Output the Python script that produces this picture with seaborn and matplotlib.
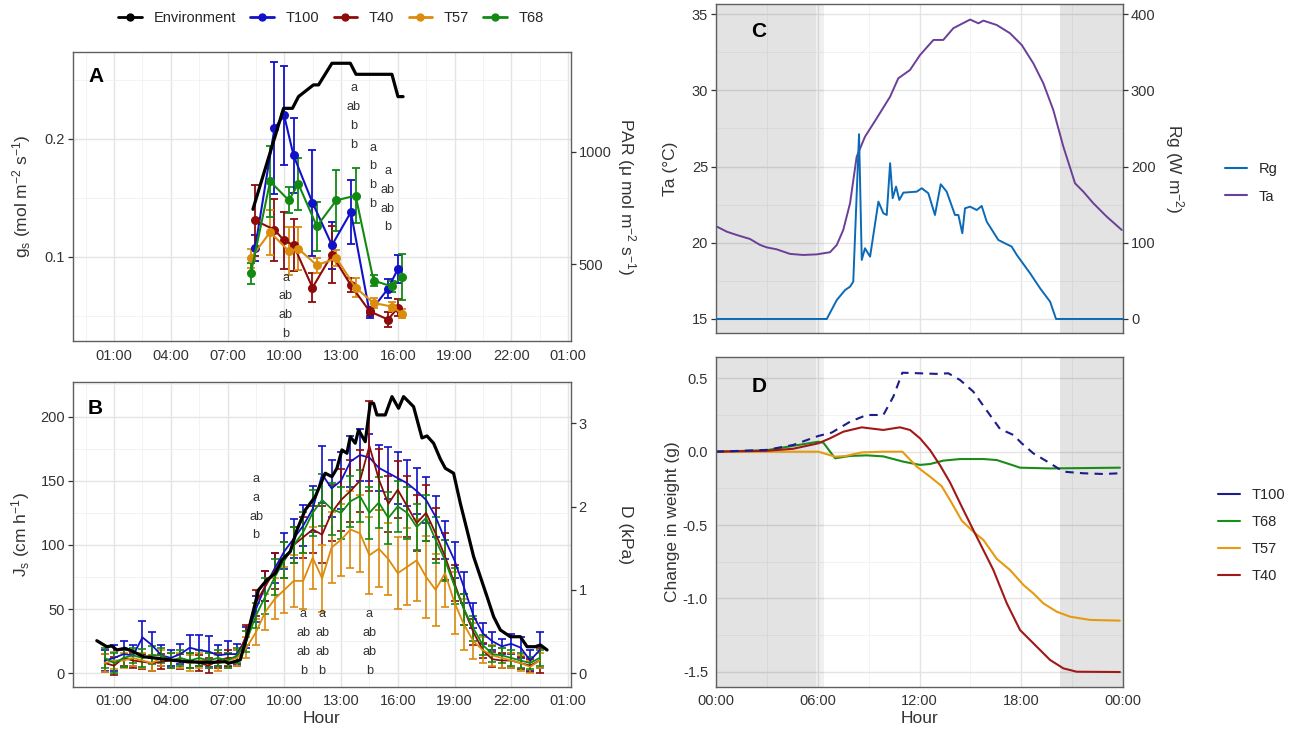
import numpy as np
import pandas as pd
import matplotlib
matplotlib.use("Agg")
import matplotlib.pyplot as plt
import seaborn as sns
from matplotlib.ticker import FixedLocator, FuncFormatter
from matplotlib.lines import Line2D

# ====================== DATA ======================
order_A = ["T100", "T40", "T57", "T68"]

# ---- Panel A : stomatal conductance (mol m-2 s-1) ----
hoursA_1 = [8.46, 9.48, 9.99, 10.49, 11.49, 12.52, 13.52, 14.51, 15.48, 16.01]   # T100, T40
hoursA_2 = [8.23, 9.25, 10.24, 10.74, 11.72, 12.75, 13.77, 14.72, 15.69, 16.22]  # T57, T68
gs_T100 = [0.108, 0.209, 0.220, 0.186, 0.146, 0.110, 0.138, 0.053, 0.073, 0.090]
gs_T100_err = [0.011, 0.056, 0.042, 0.032, 0.045, 0.020, 0.027, 0.005, 0.008, 0.012]
gs_T40 = [0.131, 0.123, 0.114, 0.110, 0.074, 0.102, 0.076, 0.054, 0.047, 0.057]
gs_T40_err = [0.030, 0.026, 0.024, 0.022, 0.012, 0.024, 0.006, 0.004, 0.006, 0.007]
gs_T57 = [0.099, 0.121, 0.105, 0.107, 0.093, 0.099, 0.074, 0.061, 0.058, 0.052]
gs_T57_err = [0.008, 0.019, 0.020, 0.018, 0.0064, 0.007, 0.008, 0.004, 0.004, 0.0036]
gs_T68 = [0.086, 0.164, 0.148, 0.162, 0.126, 0.148, 0.152, 0.080, 0.075, 0.083]
gs_T68_err = [0.0085, 0.030, 0.011, 0.022, 0.021, 0.026, 0.023, 0.005, 0.005, 0.0195]

par_hour = [8.34, 9.96, 10.43, 10.75, 11.54, 11.81, 12.52, 13.49, 13.79, 15.69, 16.01, 16.28]
par_val = [744, 1192, 1192, 1244, 1296, 1296, 1392, 1392, 1343, 1343, 1244, 1244]

lettersA = [  # (hour, top gs, labels)
    (10.09, [0.0825, 0.0667, 0.0508, 0.0350], ["a", "ab", "ab", "b"]),
    (13.66, [0.2430, 0.2269, 0.2110, 0.1952], ["a", "ab", "b", "b"]),
    (14.67, [0.1926, 0.1769, 0.1610, 0.1452], ["a", "b", "b", "b"]),
    (15.48, [0.1729, 0.1568, 0.1409, 0.1252], ["a", "ab", "ab", "b"]),
]

# ---- Panel B : sap flux density (cm h-1) ----
hoursB = np.arange(0.5, 24.0, 0.5)
js_T100 = [10, 12, 15, 14, 28, 22, 14, 12, 15, 20, 18, 17, 14, 15, 15,
           28, 50, 68, 82, 95, 105, 115, 128, 155, 144, 150, 165, 170, 168, 160, 156,
           152, 148, 142, 135, 122, 104, 88, 67, 45, 31, 25, 21, 23, 20, 10, 18]
js_T100_err = [8, 10, 10, 8, 13, 10, 8, 6, 8, 10, 12, 12, 8, 10, 8,
               8, 10, 12, 12, 14, 15, 16, 18, 22, 22, 22, 20, 20, 18, 18, 20,
               20, 18, 18, 18, 16, 15, 14, 12, 10, 8, 7, 6, 8, 8, 8, 14]
js_T40 = [8, 6, 12, 10, 9, 8, 9, 10, 9, 10, 8, 6, 10, 12, 12,
          30, 55, 68, 80, 88, 100, 106, 112, 108, 125, 135, 142, 150, 177, 151, 132,
          143, 130, 117, 125, 109, 91, 70, 50, 32, 18, 11, 10, 10, 8, 6, 10]
js_T40_err = [7, 7, 6, 6, 6, 6, 6, 6, 6, 6, 6, 6, 6, 6, 6,
              8, 10, 12, 14, 14, 14, 16, 18, 22, 22, 24, 24, 24, 35, 24, 22,
              22, 24, 22, 22, 20, 18, 14, 12, 10, 6, 6, 6, 6, 5, 5, 10]
js_T57 = [8, 10, 10, 12, 10, 8, 12, 10, 10, 8, 10, 10, 8, 10, 12,
          20, 32, 48, 58, 65, 72, 72, 90, 74, 98, 104, 112, 109, 92, 97, 89,
          78, 83, 88, 75, 65, 78, 55, 38, 25, 18, 14, 12, 10, 8, 5, 10]
js_T57_err = [7, 7, 6, 6, 6, 6, 6, 6, 6, 6, 6, 6, 6, 6, 6,
              8, 10, 14, 16, 18, 20, 22, 24, 26, 28, 28, 30, 30, 30, 30, 28,
              28, 30, 32, 32, 28, 26, 24, 20, 14, 10, 8, 8, 6, 6, 5, 6]
js_T68 = [12, 8, 12, 14, 12, 14, 14, 10, 12, 10, 12, 10, 12, 10, 14,
          25, 45, 60, 75, 88, 100, 110, 125, 135, 128, 125, 134, 138, 125, 133, 121,
          130, 125, 114, 121, 104, 88, 68, 50, 35, 22, 15, 14, 12, 10, 8, 12]
js_T68_err = [8, 8, 7, 6, 7, 7, 6, 6, 6, 6, 6, 6, 6, 6, 6,
              8, 10, 14, 14, 14, 14, 16, 18, 20, 20, 20, 20, 20, 20, 20, 20,
              20, 20, 18, 18, 18, 16, 14, 12, 10, 8, 6, 6, 6, 6, 5, 6]

vpd_hour = [0.085, 0.614, 0.878, 1.143, 1.582, 2.021, 2.550, 3.259, 3.963, 4.847,
            5.550, 6.254, 6.873, 7.048, 7.492, 7.667, 8.021, 8.286, 8.635, 9.079,
            9.519, 9.873, 10.312, 10.667, 11.106, 11.635, 12.164, 12.519, 12.783, 13.048,
            13.312, 13.487, 13.751, 13.926, 14.280, 14.545, 14.720, 14.899, 15.339, 15.693,
            16.042, 16.307, 16.836, 17.280, 17.545, 17.894, 18.249, 18.513, 18.952, 19.307,
            19.661, 20.011, 20.365, 20.720, 21.069, 21.423, 21.952, 22.481, 22.836, 23.275,
            23.540, 23.894]
vpd_val = [0.391, 0.319, 0.328, 0.280, 0.300, 0.259, 0.199, 0.180, 0.160, 0.139,
           0.132, 0.132, 0.139, 0.120, 0.148, 0.160, 0.439, 0.679, 1.000, 1.120,
           1.200, 1.360, 1.460, 1.720, 1.960, 2.120, 2.401, 2.360, 2.461, 2.681,
           2.641, 2.840, 2.761, 2.921, 2.780, 3.241, 3.241, 3.101, 3.101, 3.321,
           3.181, 3.321, 3.200, 2.825, 2.849, 2.761, 2.573, 2.461, 2.401, 2.041,
           1.720, 1.400, 1.160, 0.920, 0.679, 0.520, 0.439, 0.439, 0.319, 0.319,
           0.340, 0.280]

lettersB = [
    (8.51, [151.1, 136.5, 121.9, 107.5], ["a", "a", "ab", "b"]),
    (11.0, [46.0, 31.2, 16.4, 1.8], ["a", "ab", "ab", "b"]),
    (12.0, [46.0, 31.2, 16.4, 1.8], ["a", "ab", "ab", "b"]),
    (14.5, [46.0, 31.2, 16.4, 1.8], ["a", "ab", "ab", "b"]),
]

# ---- Panel C : air temperature and global radiation ----
ta_hour = [0, 0.65, 1.24, 2.02, 2.61, 3.0, 3.59, 4.38, 5.16, 5.95, 6.73, 7.13, 7.51, 7.91,
           8.30, 8.79, 9.48, 10.27, 10.75, 11.44, 12.03, 12.82, 13.40, 13.99, 14.98, 15.47,
           15.76, 16.55, 17.33, 18.02, 18.70, 19.29, 19.88, 20.47, 21.16, 21.65, 22.24,
           23.03, 23.91]
ta_val = [21.10, 20.73, 20.51, 20.25, 19.86, 19.70, 19.57, 19.27, 19.20, 19.24, 19.38,
          19.86, 20.84, 22.59, 25.65, 26.96, 28.17, 29.59, 30.79, 31.34, 32.32, 33.31,
          33.31, 34.08, 34.65, 34.40, 34.58, 34.29, 33.75, 32.98, 31.78, 30.47, 28.71,
          26.31, 23.90, 23.35, 22.59, 21.71, 20.84]
rg_hour = [0, 6.54, 7.13, 7.62, 7.91, 8.10, 8.44, 8.60, 8.79, 9.09, 9.58, 9.87, 10.07,
           10.27, 10.42, 10.62, 10.81, 11.05, 11.84, 12.13, 12.52, 12.91, 13.25, 13.60,
           14.09, 14.29, 14.52, 14.68, 14.98, 15.37, 15.66, 15.96, 16.64, 17.43, 17.73,
           18.51, 19.10, 19.69, 20.04, 24.0]
rg_val = [0, 0, 24.9, 38, 42.4, 49, 242.5, 77.5, 92.8, 81.8, 154, 138.8, 136.5, 204.4,
          158.5, 173.7, 156.2, 165.8, 167.1, 171.6, 165, 136.5, 176.8, 167.1, 136.5, 136.5,
          112.5, 145.3, 147.4, 143, 148.3, 127.7, 103.7, 94.9, 84, 60, 40.3, 22.7, 0, 0]

# ---- Panel D : change in weight (g) ----
wD_T100_h = [0, 3.0, 4.57, 6.04, 6.83, 7.91, 8.89, 9.87, 10.46, 10.99, 12.03, 13.0, 13.7,
             14.39, 15.17, 15.96, 16.74, 17.53, 18.02, 18.70, 19.69, 20.47, 21.65, 22.83, 23.8]
wD_T100 = [0, 0.012, 0.046, 0.107, 0.13, 0.204, 0.25, 0.25, 0.375, 0.538, 0.534, 0.53,
           0.534, 0.488, 0.409, 0.28, 0.155, 0.114, 0.057, -0.011, -0.079, -0.136,
           -0.147, -0.152, -0.147]
wD_T68_h = [0, 3.0, 6.04, 6.34, 7.03, 7.91, 8.89, 9.87, 11.05, 12.03, 12.62, 13.40, 14.39,
            15.76, 16.55, 17.43, 17.92, 19.69, 23.8]
wD_T68 = [0, 0.01, 0.068, 0.061, -0.045, -0.029, -0.025, -0.032, -0.068, -0.09, -0.084,
          -0.061, -0.05, -0.05, -0.057, -0.09, -0.109, -0.114, -0.109]
wD_T57_h = [0, 6.04, 7.03, 7.62, 8.6, 9.87, 10.99, 11.84, 12.62, 13.3, 13.8, 14.49, 15.17,
            15.76, 16.55, 17.33, 18.12, 18.70, 19.29, 20.08, 20.87, 22.04, 23.8]
wD_T57 = [0, 0, -0.034, -0.03, -0.005, 0, 0, -0.102, -0.17, -0.234, -0.33, -0.47, -0.545,
          -0.601, -0.73, -0.806, -0.908, -0.965, -1.033, -1.09, -1.124, -1.146, -1.151]
wD_T40_h = [0, 3.0, 4.57, 6.04, 6.73, 7.51, 8.6, 9.0, 9.87, 10.46, 10.85, 11.44, 12.03,
            12.62, 13.2, 13.8, 14.49, 15.17, 15.76, 16.35, 17.14, 17.92, 18.70, 19.69,
            20.47, 21.26, 23.8]
wD_T40 = [0, 0.006, 0.02, 0.057, 0.091, 0.136, 0.166, 0.16, 0.148, 0.159, 0.166, 0.148,
          0.091, 0.011, -0.091, -0.21, -0.375, -0.534, -0.67, -0.806, -1.033, -1.215,
          -1.305, -1.419, -1.476, -1.499, -1.501]

night_spans = [(0.0, 5.9, 0.11), (5.9, 6.36, 0.06), (20.27, 24.0, 0.11)]

# ====================== STYLE ======================
sns.set_theme(style="white")
plt.rcParams["font.family"] = ["Liberation Sans", "DejaVu Sans"]
plt.rcParams["mathtext.fontset"] = "custom"
plt.rcParams["mathtext.rm"] = "Liberation Sans"
plt.rcParams["mathtext.it"] = "Liberation Sans:italic"
plt.rcParams["mathtext.sf"] = "Liberation Sans"
plt.rcParams["axes.unicode_minus"] = False

palA = {"T100": "#1111C8", "T40": "#8E0B0B", "T57": "#DB8B0E", "T68": "#128A12"}
palD = {"T100": "#1C1C8A", "T68": "#1A8C1A", "T57": "#E69A10", "T40": "#A01818"}
c_rg, c_ta = "#0B6AB8", "#6B3F98"
TXT = "#333333"

W, H = 1295, 729
fig = plt.figure(figsize=(W / 100, H / 100), dpi=100)
fig.patch.set_facecolor("white")


def box(x0, y0, x1, y1):
    return [x0 / W, 1 - y1 / H, (x1 - x0) / W, (y1 - y0) / H]


def style(ax):
    ax.set_facecolor("white")
    for s in ax.spines.values():
        s.set_color("#5f5f5f")
        s.set_linewidth(1.0)
    ax.set_axisbelow(True)
    ax.grid(True, which="major", color="#E4E4E4", lw=1.0)
    ax.grid(True, which="minor", color="#F1F1F1", lw=0.6)
    ax.tick_params(which="major", length=3.5, width=0.9, color=TXT,
                   labelsize=10.5, labelcolor=TXT, pad=2)
    ax.tick_params(which="minor", length=0)


def twin_style(ax2):
    ax2.grid(False)
    ax2.patch.set_visible(False)
    for s in ax2.spines.values():
        s.set_visible(False)
    ax2.tick_params(axis="y", which="major", length=3.5, width=0.9, color=TXT,
                    labelsize=10.5, labelcolor=TXT, pad=2)
    ax2.tick_params(which="minor", length=0)


hour_fmt = FuncFormatter(lambda v, p: f"{int(round(v)) % 24:02d}:00")
xlimAB = (-1.19, 25.16)

# ====================== PANEL A ======================
axA = fig.add_axes(box(72.7, 52, 571, 341))
style(axA)
rows = []
for name, hrs, vals, errs in [("T100", hoursA_1, gs_T100, gs_T100_err),
                               ("T40", hoursA_1, gs_T40, gs_T40_err),
                               ("T57", hoursA_2, gs_T57, gs_T57_err),
                               ("T68", hoursA_2, gs_T68, gs_T68_err)]:
    for h, v, e in zip(hrs, vals, errs):
        rows.append((name, h, v, e))
dfA = pd.DataFrame(rows, columns=["treatment", "hour", "gs", "err"])

for name in ["T100", "T40", "T57", "T68"]:
    sub = dfA[dfA.treatment == name]
    axA.errorbar(sub.hour, sub.gs, yerr=sub.err, fmt="none", ecolor=palA[name],
                 elinewidth=1.3, capsize=2.6, capthick=1.3, zorder=2)
sns.lineplot(data=dfA, x="hour", y="gs", hue="treatment", hue_order=["T100", "T40", "T57", "T68"],
             palette=palA, estimator=None, marker="o", markersize=6.5, markeredgewidth=0,
             linewidth=1.5, legend=False, ax=axA, zorder=3)
axA.set_xlim(*xlimAB)
axA.set_ylim(0.0288, 0.2737)
axA.xaxis.set_major_locator(FixedLocator([1, 4, 7, 10, 13, 16, 19, 22, 25]))
axA.xaxis.set_minor_locator(FixedLocator(np.arange(-0.5, 26, 3)))
axA.xaxis.set_major_formatter(hour_fmt)
axA.yaxis.set_major_locator(FixedLocator([0.1, 0.2]))
axA.yaxis.set_minor_locator(FixedLocator([0.05, 0.15, 0.25]))
axA.yaxis.set_major_formatter(FuncFormatter(lambda v, p: f"{v:.1f}"))
axA.set_xlabel("")
axA.set_ylabel(r"g$_\mathrm{s}$ (mol m$^{\mathrm{-2}}$ s$^{\mathrm{-1}}$)", fontsize=12.5, color=TXT)
axA.yaxis.set_label_coords(-0.080, 0.5)

axA2 = axA.twinx()
twin_style(axA2)
sns.lineplot(x=par_hour, y=par_val, color="black", linewidth=2.3, estimator=None, ax=axA2)
axA2.set_ylim(159.5, 1442)
axA2.yaxis.set_major_locator(FixedLocator([500, 1000]))
axA2.set_ylabel(r"PAR ($\mathrm{\mu}$ mol m$^{\mathrm{-2}}$ s$^{\mathrm{-1}}$)", fontsize=12.5,
                color=TXT, rotation=270, va="bottom")
axA2.yaxis.set_label_coords(1.088, 0.5)

for h, ys, labs in lettersA:
    for y, t in zip(ys, labs):
        axA.text(h, y, t, ha="center", va="center", fontsize=9.2, color=TXT, zorder=5)
axA.text(0.031, 0.915, "A", transform=axA.transAxes, fontsize=15, fontweight="bold",
         ha="left", va="center", color="black")

# ====================== PANEL B ======================
axB = fig.add_axes(box(72.7, 381.7, 571, 686.7))
style(axB)
rowsB = []
for name, vals, errs in [("T100", js_T100, js_T100_err), ("T40", js_T40, js_T40_err),
                         ("T57", js_T57, js_T57_err), ("T68", js_T68, js_T68_err)]:
    for h, v, e in zip(hoursB, vals, errs):
        rowsB.append((name, h, v, e))
dfB = pd.DataFrame(rowsB, columns=["treatment", "hour", "js", "err"])
for name in ["T100", "T40", "T57", "T68"]:
    sub = dfB[dfB.treatment == name]
    axB.errorbar(sub.hour, sub.js, yerr=sub.err, fmt="none", ecolor=palA[name],
                 elinewidth=1.2, capsize=2.6, capthick=1.2, zorder=2)
sns.lineplot(data=dfB, x="hour", y="js", hue="treatment", hue_order=["T100", "T40", "T57", "T68"],
             palette=palA, estimator=None, linewidth=1.3, legend=False, ax=axB, zorder=3)
axB.set_xlim(*xlimAB)
axB.set_ylim(-10.4, 227.1)
axB.xaxis.set_major_locator(FixedLocator([1, 4, 7, 10, 13, 16, 19, 22, 25]))
axB.xaxis.set_minor_locator(FixedLocator(np.arange(-0.5, 26, 3)))
axB.xaxis.set_major_formatter(hour_fmt)
axB.yaxis.set_major_locator(FixedLocator([0, 50, 100, 150, 200]))
axB.yaxis.set_minor_locator(FixedLocator([25, 75, 125, 175, 225]))
axB.set_xlabel("Hour", fontsize=12.5, color=TXT)
axB.xaxis.set_label_coords(0.5, -0.080)
axB.set_ylabel(r"J$_\mathrm{s}$ (cm h$^{\mathrm{-1}}$)", fontsize=12.5, color=TXT)
axB.yaxis.set_label_coords(-0.082, 0.5)

axB2 = axB.twinx()
twin_style(axB2)
sns.lineplot(x=vpd_hour, y=vpd_val, color="black", linewidth=2.3, estimator=None, ax=axB2)
axB2.set_ylim(-0.161, 3.50)
axB2.yaxis.set_major_locator(FixedLocator([0, 1, 2, 3]))
axB2.set_ylabel("D (kPa)", fontsize=12.5, color=TXT, rotation=270, va="bottom")
axB2.yaxis.set_label_coords(1.094, 0.5)

for h, ys, labs in lettersB:
    for y, t in zip(ys, labs):
        axB.text(h, y, t, ha="center", va="center", fontsize=9.2, color=TXT, zorder=5)
axB.text(0.030, 0.913, "B", transform=axB.transAxes, fontsize=15, fontweight="bold",
         ha="left", va="center", color="black")

# ====================== PANEL C ======================
axC = fig.add_axes(box(715.7, 4.3, 1123.3, 333.3))
style(axC)
for a, b, al in night_spans:
    axC.axvspan(a, b, color="black", alpha=al, lw=0, zorder=1)
sns.lineplot(x=ta_hour, y=ta_val, color=c_ta, linewidth=1.4, estimator=None, ax=axC)
axC.set_xlim(0, 24)
axC.set_ylim(14.06, 35.65)
axC.xaxis.set_major_locator(FixedLocator([0, 6, 12, 18, 24]))
axC.xaxis.set_minor_locator(FixedLocator([3, 9, 15, 21]))
axC.tick_params(axis="x", labelbottom=False, length=0)
axC.yaxis.set_major_locator(FixedLocator([15, 20, 25, 30, 35]))
axC.yaxis.set_minor_locator(FixedLocator([17.5, 22.5, 27.5, 32.5]))
axC.set_ylabel("Ta (°C)", fontsize=12.5, color=TXT)
axC.yaxis.set_label_coords(-0.0925, 0.5)

axC2 = axC.twinx()
twin_style(axC2)
sns.lineplot(x=rg_hour, y=rg_val, color=c_rg, linewidth=1.4, estimator=None, ax=axC2)
axC2.set_ylim(-18.8, 413)
axC2.yaxis.set_major_locator(FixedLocator([0, 100, 200, 300, 400]))
axC2.set_ylabel(r"Rg (W m$^{\mathrm{-2}}$)", fontsize=12.5, color=TXT, rotation=270, va="bottom")
axC2.yaxis.set_label_coords(1.0975, 0.5)
axC.text(0.087, 0.918, "C", transform=axC.transAxes, fontsize=15, fontweight="bold",
         ha="left", va="center", color="black")

# ====================== PANEL D ======================
axD = fig.add_axes(box(715.7, 357.3, 1123.3, 686.7))
style(axD)
for a, b, al in night_spans:
    axD.axvspan(a, b, color="black", alpha=al, lw=0, zorder=1)
dD = [("T100", wD_T100_h, wD_T100), ("T68", wD_T68_h, wD_T68),
      ("T57", wD_T57_h, wD_T57), ("T40", wD_T40_h, wD_T40)]
rowsD = [(n, h, v) for n, hs, vs in dD for h, v in zip(hs, vs)]
dfD = pd.DataFrame(rowsD, columns=["treatment", "hour", "w"])
for n in ["T68", "T57", "T40"]:
    sns.lineplot(data=dfD[dfD.treatment == n], x="hour", y="w", color=palD[n],
                 linewidth=1.5, estimator=None, ax=axD)
sns.lineplot(data=dfD[dfD.treatment == "T100"], x="hour", y="w", color=palD["T100"],
             linewidth=1.5, estimator=None, ax=axD, dashes=False, linestyle=(0, (4, 3)))
axD.set_xlim(0, 24)
axD.set_ylim(-1.601, 0.643)
axD.xaxis.set_major_locator(FixedLocator([0, 6, 12, 18, 24]))
axD.xaxis.set_minor_locator(FixedLocator([3, 9, 15, 21]))
axD.xaxis.set_major_formatter(hour_fmt)
axD.yaxis.set_major_locator(FixedLocator([-1.5, -1.0, -0.5, 0.0, 0.5]))
axD.yaxis.set_minor_locator(FixedLocator([-1.25, -0.75, -0.25, 0.25]))
axD.yaxis.set_major_formatter(FuncFormatter(lambda v, p: f"{v:.1f}"))
axD.set_xlabel("Hour", fontsize=12.5, color=TXT)
axD.xaxis.set_label_coords(0.5, -0.074)
axD.set_ylabel("Change in weight (g)", fontsize=12.5, color=TXT)
axD.yaxis.set_label_coords(-0.0876, 0.5)
axD.text(0.087, 0.911, "D", transform=axD.transAxes, fontsize=15, fontweight="bold",
         ha="left", va="center", color="black")

# ====================== LEGENDS ======================
top_h = [Line2D([0], [0], color="black", lw=2, marker="o", ms=5)] + \
        [Line2D([0], [0], color=palA[n], lw=2, marker="o", ms=5) for n in order_A]
fig.legend(top_h, ["Environment"] + order_A, loc="center",
           bbox_to_anchor=(331 / W, 1 - 18 / H), ncol=5, frameon=False, fontsize=10.5,
           handlelength=1.6, handletextpad=0.8, columnspacing=1.0,
           borderaxespad=0, borderpad=0)

c_h = [Line2D([0], [0], color=c_rg, lw=1.5), Line2D([0], [0], color=c_ta, lw=1.5)]
fig.legend(c_h, ["Rg", "Ta"], loc="center left", bbox_to_anchor=(1225 / W, 1 - 183 / H),
           frameon=False, fontsize=10.5, handlelength=1.5, handletextpad=0.8,
           labelspacing=0.9, borderaxespad=0, borderpad=0)

d_h = [Line2D([0], [0], color=palD[n], lw=1.5) for n in ["T100", "T68", "T57", "T40"]]
fig.legend(d_h, ["T100", "T68", "T57", "T40"], loc="center left",
           bbox_to_anchor=(1218 / W, 1 - 535.5 / H), frameon=False, fontsize=10.5,
           handlelength=1.5, handletextpad=0.8, labelspacing=0.9,
           borderaxespad=0, borderpad=0)

fig.savefig("out.png", dpi=100, facecolor="white")
